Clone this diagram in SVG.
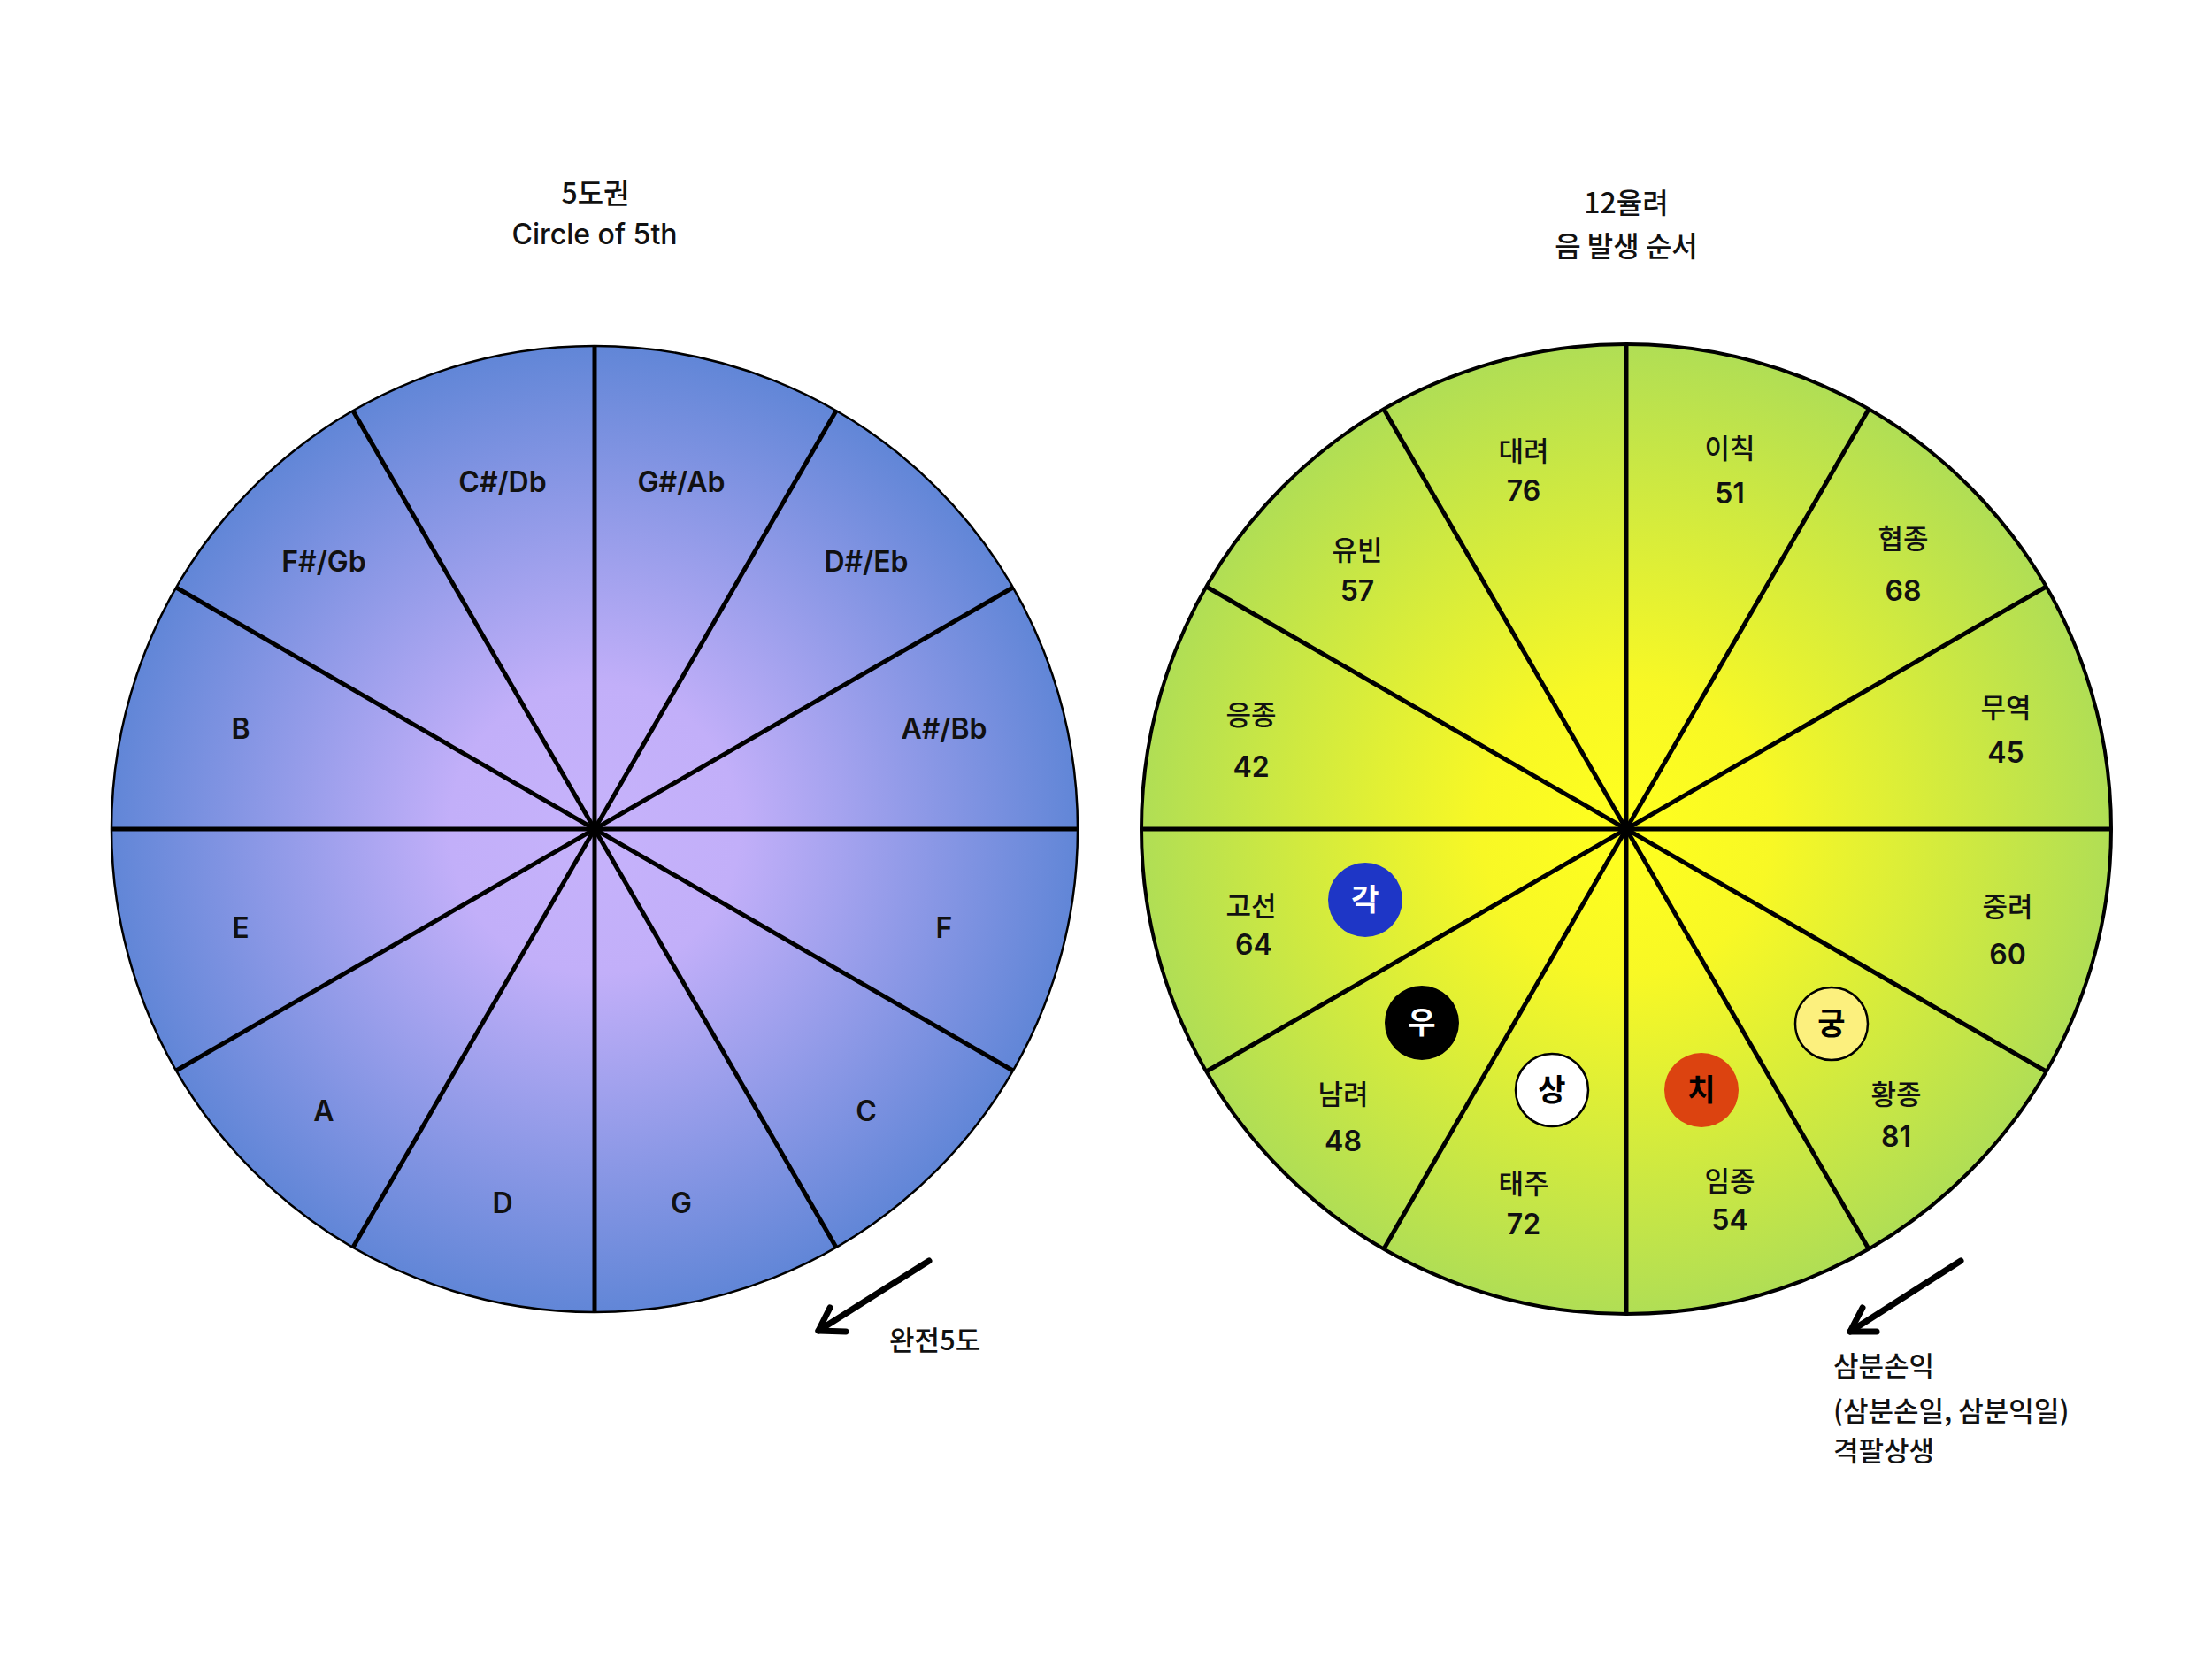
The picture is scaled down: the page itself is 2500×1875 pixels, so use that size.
<svg xmlns="http://www.w3.org/2000/svg" width="2500" height="1875" viewBox="0 0 2500 1875">
<defs>
<radialGradient id="gBlue" cx="0.5" cy="0.5" r="0.5">
<stop offset="0" stop-color="#c6b2fb"/>
<stop offset="0.3" stop-color="#c2aff9"/>
<stop offset="1" stop-color="#6186d7"/>
</radialGradient>
<radialGradient id="gGreen" cx="0.5" cy="0.5" r="0.5">
<stop offset="0" stop-color="#ffff1e"/>
<stop offset="0.3" stop-color="#f8f825"/>
<stop offset="1" stop-color="#b0de55"/>
</radialGradient>
</defs>
<style>
.lat{font-family:Inter,"Noto Sans","Noto Sans CJK KR",sans-serif;font-size:32px;font-weight:600;fill:#111;text-anchor:middle}
.kr{font-family:"Noto Sans CJK KR",sans-serif;font-size:31px;font-weight:500;fill:#111;text-anchor:middle}
.num{font-family:Inter,"Noto Sans",sans-serif;font-size:32px;font-weight:600;fill:#111;text-anchor:middle}
.title{font-family:Inter,"Noto Sans CJK KR",sans-serif;font-size:32px;font-weight:500;fill:#111;text-anchor:middle}
.titlekr{font-family:"Noto Sans CJK KR",sans-serif;font-size:32px;font-weight:500;fill:#111;text-anchor:middle}
.badge{font-family:"Noto Sans CJK KR",sans-serif;font-size:34px;font-weight:700;text-anchor:middle}
.spoke{stroke:#000;stroke-width:5;fill:none}
.arrow{stroke:#000;stroke-width:7;fill:none;stroke-linecap:round;stroke-linejoin:round}
.note{font-family:"Noto Sans CJK KR",sans-serif;font-size:31px;font-weight:500;fill:#111}
</style>
<rect width="2500" height="1875" fill="#ffffff"/>

<!-- Left: circle of fifths -->
<g id="left-title">
<text class="titlekr" x="673" y="230">5도권</text>
<text class="title" x="672" y="276">Circle of 5th</text>
</g>
<g id="left-wheel">
<circle cx="672" cy="937" r="546" fill="url(#gBlue)" stroke="#000" stroke-width="2.5"/>
<g class="spoke">
<line x1="126" y1="937" x2="1218" y2="937"/>
<line x1="1144.8" y1="664" x2="199.2" y2="1210"/>
<line x1="945" y1="464.2" x2="399" y2="1409.8"/>
<line x1="672" y1="391" x2="672" y2="1483"/>
<line x1="399" y1="464.2" x2="945" y2="1409.8"/>
<line x1="199.2" y1="664" x2="1144.8" y2="1210"/>
</g>
<circle cx="672" cy="937" r="6" fill="#000"/>
</g>
<g id="left-labels">
<text class="lat" x="568" y="556">C#/Db</text>
<text class="lat" x="770" y="556">G#/Ab</text>
<text class="lat" x="366" y="646">F#/Gb</text>
<text class="lat" x="979" y="646">D#/Eb</text>
<text class="lat" x="272" y="835">B</text>
<text class="lat" x="1067" y="835">A#/Bb</text>
<text class="lat" x="272" y="1060">E</text>
<text class="lat" x="1067" y="1060">F</text>
<text class="lat" x="366" y="1267">A</text>
<text class="lat" x="979" y="1267">C</text>
<text class="lat" x="568" y="1371">D</text>
<text class="lat" x="770" y="1371">G</text>
</g>

<!-- Right: 12 yulryeo -->
<g id="right-title">
<text class="titlekr" x="1838" y="241">12율려</text>
<text class="titlekr" x="1838" y="290">음 발생 순서</text>
</g>
<g id="right-wheel">
<circle cx="1838" cy="937" r="548" fill="url(#gGreen)" stroke="#000" stroke-width="4"/>
<g class="spoke">
<line x1="1290" y1="937" x2="2386" y2="937"/>
<line x1="2312.6" y1="663" x2="1363.4" y2="1211"/>
<line x1="2112" y1="462.4" x2="1564" y2="1411.6"/>
<line x1="1838" y1="389" x2="1838" y2="1485"/>
<line x1="1564" y1="462.4" x2="2112" y2="1411.6"/>
<line x1="1363.4" y1="663" x2="2312.6" y2="1211"/>
</g>
<circle cx="1838" cy="937" r="6" fill="#000"/>
</g>
<g id="right-labels">
<text class="kr" x="1722" y="521">대려</text><text class="num" x="1722" y="566">76</text>
<text class="kr" x="1955" y="518">이칙</text><text class="num" x="1955" y="569">51</text>
<text class="kr" x="1534" y="633">유빈</text><text class="num" x="1534" y="679">57</text>
<text class="kr" x="2151" y="620">협종</text><text class="num" x="2151" y="679">68</text>
<text class="kr" x="1414" y="819">응종</text><text class="num" x="1414" y="878">42</text>
<text class="kr" x="2267" y="811">무역</text><text class="num" x="2267" y="862">45</text>
<text class="kr" x="1414" y="1035">고선</text><text class="num" x="1417" y="1079">64</text>
<text class="kr" x="2269" y="1036">중려</text><text class="num" x="2269" y="1090">60</text>
<text class="kr" x="1518" y="1248">남려</text><text class="num" x="1518" y="1301">48</text>
<text class="kr" x="2143" y="1248">황종</text><text class="num" x="2143" y="1296">81</text>
<text class="kr" x="1722" y="1349">태주</text><text class="num" x="1722" y="1395">72</text>
<text class="kr" x="1955" y="1346">임종</text><text class="num" x="1955" y="1390">54</text>
</g>
<g id="badge-gak">
<circle cx="1543" cy="1017" r="42" fill="#1e36c6"/>
<text class="badge" x="1543" y="1029" fill="#ffffff">각</text>
</g>
<g id="badge-u">
<circle cx="1607" cy="1156" r="42" fill="#000000"/>
<text class="badge" x="1607" y="1168" fill="#ffffff">우</text>
</g>
<g id="badge-sang">
<circle cx="1754" cy="1232" r="41" fill="#ffffff" stroke="#000" stroke-width="2.5"/>
<text class="badge" x="1754" y="1244" fill="#000">상</text>
</g>
<g id="badge-chi">
<circle cx="1923" cy="1232" r="42" fill="#dc4310"/>
<text class="badge" x="1923" y="1244" fill="#000">치</text>
</g>
<g id="badge-gung">
<circle cx="2070" cy="1157" r="41" fill="#fcf07e" stroke="#000" stroke-width="2.5"/>
<text class="badge" x="2070" y="1169" fill="#000">궁</text>
</g>

<!-- Connectors / arrows -->
<g id="connectors">
<path class="arrow" d="M1050 1425 L925 1504"/>
<path class="arrow" d="M938 1478 L925 1504 L956 1505"/>
<path class="arrow" d="M2216 1425 L2091 1505"/>
<path class="arrow" d="M2105 1478 L2091 1505 L2121 1505"/>
</g>
<g id="notes">
<text class="note" x="1005" y="1526">완전5도</text>
<text class="note" x="2072" y="1555">삼분손익</text>
<text class="note" x="2072" y="1606">(삼분손일, 삼분익일)</text>
<text class="note" x="2072" y="1651">격팔상생</text>
</g>
</svg>
